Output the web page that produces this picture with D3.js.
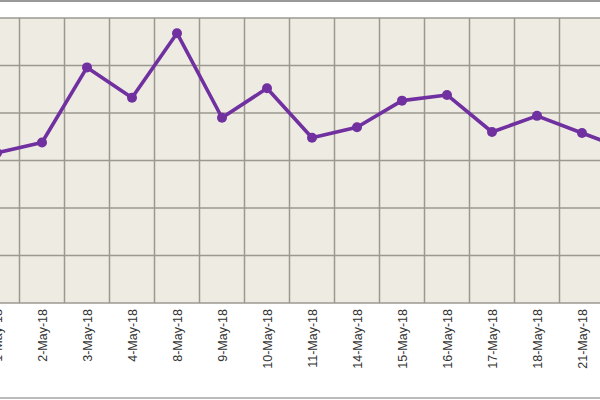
<!DOCTYPE html>
<html><head><meta charset="utf-8">
<script src="https://cdn.jsdelivr.net/npm/d3@7"></script>
<style>body{margin:0;background:#fff}svg{display:block}</style>
</head><body>
<svg id="chart" width="600" height="400"></svg>
<script>
// dates on the category axis and the values
const dates = ["1-May-18","2-May-18","3-May-18","4-May-18","8-May-18","9-May-18","10-May-18",
  "11-May-18","14-May-18","15-May-18","16-May-18","17-May-18","18-May-18","21-May-18","22-May-18"];
const values = [158,169,248,216,284,195,226,174,185,213,219,180,197,179,161];
const yTicks = [0,50,100,150,200,250,300];

const svg = d3.select("#chart");
const plotTop = 18, plotBottom = 303;

let x = d3.scalePoint().domain(dates).range([-3, -3 + 45 * (dates.length - 1)]);
let y = d3.scaleLinear().domain([0, 300]).range([plotBottom, plotTop]);

// outer frame lines
svg.append("line").attr("x1",0).attr("x2",600).attr("y1",1).attr("y2",1).attr("stroke","#999").attr("stroke-width",2);
svg.append("line").attr("x1",0).attr("x2",600).attr("y1",398).attr("y2",398).attr("stroke","#bbb").attr("stroke-width",2);

// plot background
svg.append("rect").attr("x",0).attr("y",plotTop).attr("width",600).attr("height",plotBottom-plotTop).attr("fill","#edebe2");

svg.append("clipPath").attr("id","clip").append("rect").attr("x",0).attr("y",plotTop-6).attr("width",600).attr("height",plotBottom-plotTop+12);

let grid = svg.append("g").attr("stroke","#9b9890").attr("stroke-width",1.5);
yTicks.forEach(t => {
    grid.append("line").attr("x1",0).attr("x2",600).attr("y1",y(t)).attr("y2",y(t));
});
dates.forEach(d => {
    let gx = x(d) + 22.5;
    if (gx < 600) grid.append("line").attr("x1",gx).attr("x2",gx).attr("y1",plotTop).attr("y2",plotBottom);
});

let plot = svg.append("g").attr("clip-path","url(#clip)");
let line = d3.line().x((d,i) => x(dates[i])).y(d => y(d));
plot.append("path").datum(values).attr("d",line).attr("fill","none")
    .attr("stroke","#7030a0").attr("stroke-width",3.6).attr("stroke-linejoin","round");
plot.selectAll("circle").data(values).join("circle")
    .attr("cx",(d,i) => x(dates[i])).attr("cy",d => y(d)).attr("r",5).attr("fill","#7030a0");

// rotated date labels
svg.append("g").selectAll("text").data(dates).join("text")
    .attr("transform", d => `translate(${x(d)+4.5},309) rotate(-90)`)
    .attr("text-anchor","end")
    .attr("font-family","Liberation Sans, Arial, sans-serif")
    .attr("font-size",12.5).attr("fill","#333")
    .text(d => d);
</script>
</body></html>
